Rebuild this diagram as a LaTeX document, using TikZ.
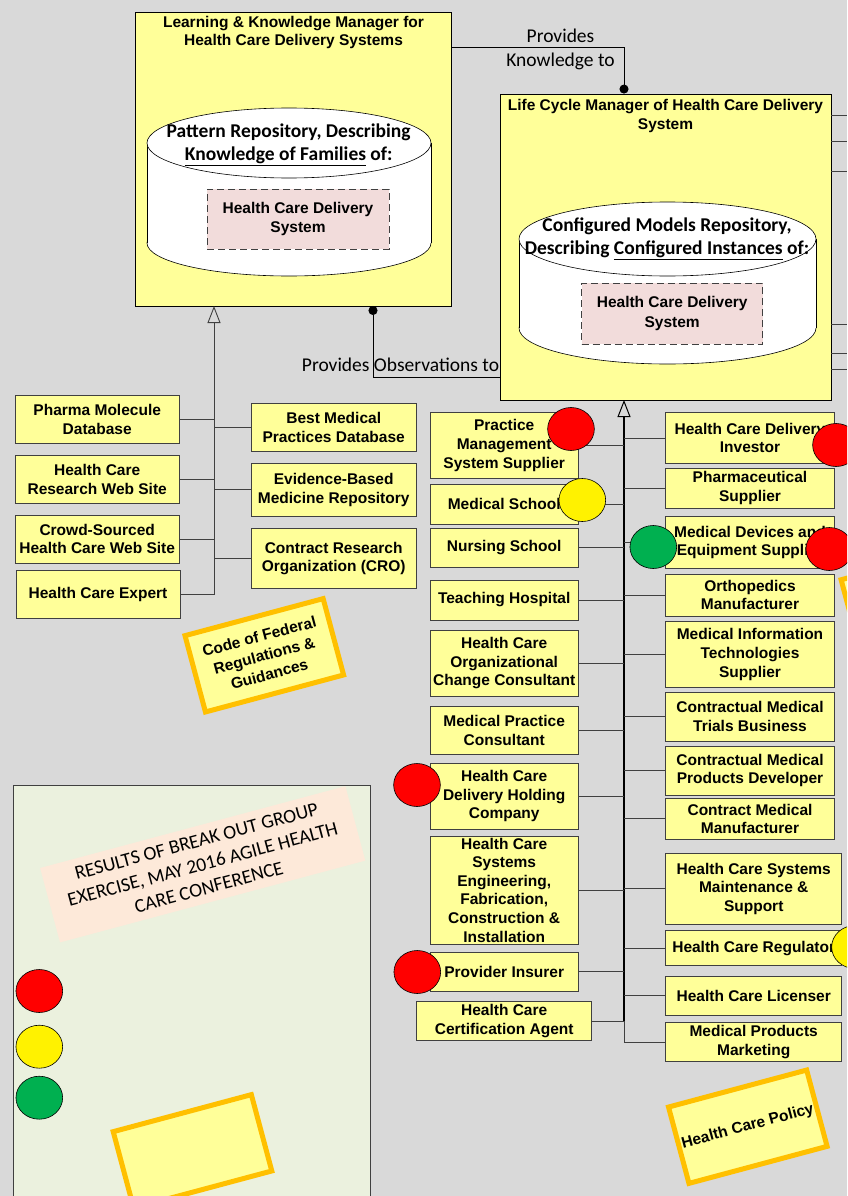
\documentclass[tikz,border=0pt]{standalone}
\usepackage{fontspec}
\usepackage{tikz}
\usetikzlibrary{shapes.geometric,arrows.meta}
\newfontfamily\arialfont{Liberation Sans}
\newfontfamily\calibrifont{Carlito}
\definecolor{bggray}{HTML}{D9D9D9}
\definecolor{boxyellow}{HTML}{FFFF99}
\definecolor{notepink}{HTML}{F2DCDB}
\definecolor{legendgreen}{HTML}{EBF1DE}
\definecolor{peach}{HTML}{FDE9D9}
\definecolor{stickyorange}{HTML}{FFC000}
\definecolor{votegreen}{HTML}{00B050}
\definecolor{linkgray}{HTML}{404040}
\tikzset{
	actor/.style={draw=linkgray, line width=0.9pt, fill=boxyellow, align=center, inner sep=1pt, font=\arialfont\bfseries\fontsize{15.5}{18.7}\selectfont},
	manager/.style={draw=black, line width=0.9pt, fill=boxyellow, inner sep=0pt},
	mantitle/.style={align=center, inner sep=0pt, font=\arialfont\bfseries\fontsize{15.5}{18.5}\selectfont},
	repotitle/.style={align=center, inner sep=0pt, font=\calibrifont\bfseries\fontsize{19.5}{23}\selectfont},
	family/.style={draw=linkgray, line width=0.9pt, dash pattern=on 7pt off 4pt, fill=notepink, align=center, inner sep=1pt, font=\arialfont\bfseries\fontsize{15.5}{19.5}\selectfont},
	link/.style={draw=linkgray, line width=0.9pt},
	genlink/.style={link, -{Triangle[open, length=17pt, width=13pt]}},
	trunk/.style={draw=black, line width=1.8pt, -{Triangle[open, length=17pt, width=13pt, line width=1pt]}},
	vote/.style={ellipse, draw=black, line width=0.6pt, fill=#1, minimum width=46.7pt, minimum height=43pt, inner sep=0pt},
	sticky/.style={draw=stickyorange, line width=5pt, fill=boxyellow, rotate=15, minimum width=143pt, minimum height=79pt, align=center, inner sep=2pt, font=\arialfont\bfseries\fontsize{15.5}{19.5}\selectfont},
	flowlabel/.style={inner sep=0pt, align=center, font=\calibrifont\fontsize{19.5}{24.3}\selectfont}
}
\begin{document}
\begin{tikzpicture}[x=1pt,y=-1pt]
		\useasboundingbox (0,0) rectangle (847,1196);
		\clip (0,0) rectangle (847,1196);
		\fill[bggray] (0,0) rectangle (847,1196);
		\draw[draw=linkgray, line width=0.9pt, fill=legendgreen] (13,785) rectangle (370,1210);
		\node[fill=peach, rotate=15, minimum width=316pt, minimum height=77pt, align=center, inner sep=0pt, font=\calibrifont\fontsize{19.5}{23.8}\selectfont] (results) at (202.7,864.3) {RESULTS OF BREAK OUT GROUP\\EXERCISE, MAY 2016 AGILE HEALTH\\CARE CONFERENCE};
		\node[manager, minimum width=316pt, minimum height=294pt] (lkm) at (293,159) {};
		\node[mantitle] (lkmTitle) at (293.5,32.3) {Learning \& Knowledge Manager for\\Health Care Delivery Systems};
		\draw[fill=white, line width=0.6pt] (289,243) ellipse [x radius=142, y radius=33];
		\fill[white] (147,143) rectangle (431,243);
		\draw[line width=0.6pt] (147,143) -- (147,243);
		\draw[line width=0.6pt] (431,143) -- (431,243);
		\draw[fill=white, line width=0.6pt] (289,143) ellipse [x radius=142, y radius=35];
		\node[repotitle] (patternTitle) at (288.7,145) {Pattern Repository, Describing\\\underline{Knowledge of Families} of:};
		\node[family, minimum width=182pt, minimum height=60pt] (patternFamily) at (298,219) {Health Care Delivery\\System};
		\node[manager, minimum width=331pt, minimum height=306pt] (lcm) at (665.5,247) {};
		\node[mantitle] (lcmTitle) at (665.5,115.8) {Life Cycle Manager of Health Care Delivery\\System};
		\draw[fill=white, line width=0.6pt] (667.5,328) ellipse [x radius=148.5, y radius=36];
		\fill[white] (519,239) rectangle (816,328);
		\draw[line width=0.6pt] (519,239) -- (519,328);
		\draw[line width=0.6pt] (816,239) -- (816,328);
		\draw[fill=white, line width=0.6pt] (667.5,239) ellipse [x radius=148.5, y radius=37];
		\node[repotitle] (configTitle) at (667,239) {Configured Models Repository,\\Describing \underline{Configured Instances} of:};
		\node[family, minimum width=181pt, minimum height=61pt] (configFamily) at (672.2,313.5) {Health Care Delivery\\System};
		\coordinate (lkmFoot) at (214,306);
		\coordinate (obsFoot) at (373,306);
		\coordinate (lcmFoot) at (624,400);
		\foreach \y [count=\i] in {115,141,171,324,353,369} {
			\coordinate (offRight\i) at (847,\y);
			\draw[link] (offRight\i -| lcm.east) -- (offRight\i);
		}
		\draw[link, draw=black, -{Circle[length=9pt]}] ([yshift=-36pt]lkm.north east) -| (lcmFoot |- lcm.north);
		\node[flowlabel] (knowLabel) at (560.5,49.5) {Provides\\Knowledge to};
		\draw[link, draw=black, {Circle[length=9pt]}-] (obsFoot) |- ([yshift=23pt]lcm.south west);
		\node[flowlabel, anchor=base] (obsLabel) at (400.5,371.5) {Provides Observations to};
		\node[actor, minimum width=164.3pt, minimum height=47.6pt] (pharmaDb) at (97.2,419.5) {Pharma Molecule\\Database};
		\node[actor, minimum width=164.3pt, minimum height=48pt] (researchSite) at (97.2,479.3) {Health Care\\Research Web Site};
		\node[actor, minimum width=164.3pt, minimum height=48pt] (crowdSite) at (97.2,539) {Crowd-Sourced\\Health Care Web Site};
		\node[actor, minimum width=164pt, minimum height=47.6pt] (expert) at (98,594.5) {Health Care Expert};
		\node[actor, minimum width=164.7pt, minimum height=47.7pt] (bestPractices) at (333.7,427.2) {Best Medical\\Practices Database};
		\node[actor, minimum width=164.7pt, minimum height=53.7pt] (evidenceRepo) at (333.7,489.8) {Evidence-Based\\Medicine Repository};
		\node[actor, minimum width=164.7pt, minimum height=59.6pt] (cro) at (333.7,558.5) {Contract Research\\Organization (CRO)};
		\draw[genlink] (expert.east) -| (lkmFoot);
		\foreach \n in {pharmaDb,researchSite,crowdSite} {
			\draw[link] (\n.east) -- (\n.east -| lkmFoot);
		}
		\foreach \n in {bestPractices,evidenceRepo,cro} {
			\draw[link] (\n.west) -- (\n.west -| lkmFoot);
		}
		\node[actor, minimum width=148.3pt, minimum height=65.6pt] (pmsSupplier) at (504.2,445.5) {Practice\\Management\\System Supplier};
		\node[actor, minimum width=148.3pt, minimum height=39.7pt] (medSchool) at (504.2,504.2) {Medical School};
		\node[actor, minimum width=148.3pt, minimum height=39.7pt] (nursingSchool) at (504.2,547.8) {Nursing School};
		\node[actor, minimum width=148.3pt, minimum height=40pt] (teachingHosp) at (504.2,600) {Teaching Hospital};
		\node[actor, minimum width=148.3pt, minimum height=65.7pt] (orgChange) at (504.2,663.2) {Health Care\\Organizational\\Change Consultant};
		\node[actor, minimum width=148.3pt, minimum height=47.3pt] (practiceConsult) at (504.2,730.3) {Medical Practice\\Consultant};
		\node[actor, minimum width=148.3pt, minimum height=65.7pt] (holdingCo) at (504.2,796.2) {Health Care\\Delivery Holding\\Company};
		\node[actor, minimum width=148.3pt, minimum height=108pt, inner sep=0pt, font=\arialfont\bfseries\fontsize{15.5}{18.6}\selectfont] (sysEngineering) at (504.2,890) {Health Care\\Systems\\Engineering,\\Fabrication,\\Construction \&\\Installation};
		\node[actor, minimum width=148.3pt, minimum height=38.3pt] (providerIns) at (504.2,971.9) {Provider Insurer};
		\node[actor, minimum width=175pt, minimum height=39pt] (certAgent) at (504.2,1021.2) {Health Care\\Certification Agent};
		\node[actor, minimum width=168.6pt, minimum height=50.6pt] (investor) at (750,438) {Health Care Delivery\\Investor};
		\node[actor, minimum width=168.6pt, minimum height=40pt] (pharmaSupplier) at (750,488.3) {Pharmaceutical\\Supplier};
		\node[actor, minimum width=168.6pt, minimum height=51.6pt] (devicesSupplier) at (750,542.5) {Medical Devices and\\Equipment Supplier};
		\node[actor, minimum width=168.6pt, minimum height=42pt] (orthoMaker) at (750,595) {Orthopedics\\Manufacturer};
		\node[actor, minimum width=168.6pt, minimum height=65.6pt] (medIT) at (750,654.5) {Medical Information\\Technologies\\Supplier};
		\node[actor, minimum width=168.6pt, minimum height=48.7pt] (trialsBiz) at (750,716.7) {Contractual Medical\\Trials Business};
		\node[actor, minimum width=168.6pt, minimum height=49pt] (productsDev) at (750,770.5) {Contractual Medical\\Products Developer};
		\node[actor, minimum width=168.6pt, minimum height=41pt] (contractMaker) at (750,818.8) {Contract Medical\\Manufacturer};
		\node[actor, minimum width=176pt, minimum height=71pt] (maintenance) at (753.7,888.8) {Health Care Systems\\Maintenance \&\\Support};
		\node[actor, minimum width=176pt, minimum height=35pt] (regulator) at (753.7,948.2) {Health Care Regulator};
		\node[actor, minimum width=176pt, minimum height=38.3pt] (licenser) at (753.7,995.8) {Health Care Licenser};
		\node[actor, minimum width=176pt, minimum height=39pt] (marketing) at (753.7,1042.2) {Medical Products\\Marketing};
		\draw[trunk] (certAgent.east -| lcmFoot) -- (lcmFoot);
		\draw[link] (certAgent.east -| lcmFoot) |- (marketing.west);
		\foreach \n in {pmsSupplier,medSchool,nursingSchool,teachingHosp,orgChange,practiceConsult,holdingCo,sysEngineering,providerIns,certAgent} {
			\draw[link] (\n.east) -- (\n.east -| lcmFoot);
		}
		\foreach \n in {investor,pharmaSupplier,devicesSupplier,orthoMaker,medIT,trialsBiz,productsDev,contractMaker,maintenance,regulator,licenser} {
			\draw[link] (\n.west) -- (\n.west -| lcmFoot);
		}
		\node[vote=red] (pmsVote) at (571,429) {};
		\node[vote=yellow] (schoolVote) at (582.3,500) {};
		\node[vote=votegreen] (devicesGoVote) at (653.3,547) {};
		\node[vote=red] (investorVote) at (836,445) {};
		\node[vote=red] (devicesStopVote) at (829.3,549) {};
		\node[vote=red] (holdingVote) at (417,785) {};
		\node[vote=red] (insurerVote) at (417.3,972) {};
		\node[vote=yellow] (regulatorVote) at (855,947) {};
		\node[vote=red] (legendRed) at (39.3,991) {};
		\node[vote=yellow] (legendYellow) at (39.3,1046.7) {};
		\node[vote=votegreen] (legendGreen) at (39.3,1097.7) {};
		\node[sticky] (cfrNote) at (264.3,655.3) {Code of Federal\\Regulations \&\\Guidances};
		\node[sticky] (policyNote) at (747.8,1126.7) {Health Care Policy};
		\node[sticky] (blankNote) at (192.5,1151.3) {};
		\node[sticky] (edgeNote) at (920.4,599.4) {};
\end{tikzpicture}
\end{document}
